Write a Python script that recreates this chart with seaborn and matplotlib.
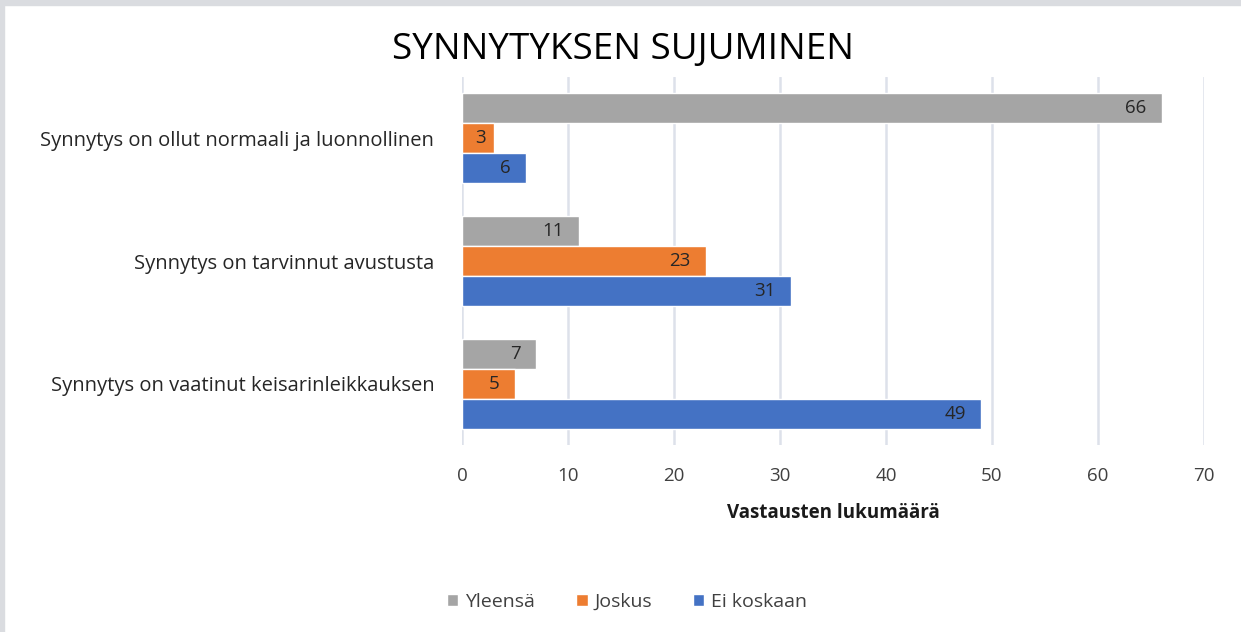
import pandas as pd
import seaborn as sns
import matplotlib.pyplot as plt
from matplotlib.patches import Rectangle

# --- data ---
categories = ['Synnytys on ollut normaali ja luonnollinen',
              'Synnytys on tarvinnut avustusta',
              'Synnytys on vaatinut keisarinleikkauksen']
series = ['Yleensä', 'Joskus', 'Ei koskaan']
yleensa = [66, 11, 7]
joskus = [3, 23, 5]
ei_koskaan = [6, 31, 49]
x_ticks = [0, 10, 20, 30, 40, 50, 60, 70]

colors = ['#A5A5A5', '#ED7D31', '#4472C4']

df = pd.DataFrame({
    'kategoria': categories * 3,
    'sarja': [s for s in series for _ in categories],
    'arvo': yleensa + joskus + ei_koskaan,
})

sns.set_theme(style='white')
plt.rcParams['font.family'] = ['Open Sans', 'DejaVu Sans']

fig = plt.figure(figsize=(12.41, 6.32), dpi=100)
ax = fig.add_axes([462 / 1241, 1 - 445 / 632, (1204 - 462) / 1241, (445 - 77) / 632])

sns.barplot(data=df, y='kategoria', x='arvo', hue='sarja', order=categories,
            hue_order=series, palette=colors, orient='h', width=0.735,
            saturation=1, ax=ax, legend=True, zorder=3)

ax.set_xlim(0, 70)
ax.set_xticks(x_ticks)

# value labels at the inside end of each bar (Excel style), kept inside short bars
px_per_unit = (1204 - 462) / 70
for cont in ax.containers:
    for bar, val in zip(cont.patches, cont.datavalues):
        yc = bar.get_y() + bar.get_height() / 2
        txt = f'{val:g}'
        text_w = 10 * len(txt)
        if val * px_per_unit - 16 - text_w < 14:
            ax.annotate(txt, (0, yc), xytext=(13 * 0.72, 0), textcoords='offset points',
                        ha='left', va='center', fontsize=13.5, color='#262626', zorder=4)
        else:
            ax.annotate(txt, (val, yc), xytext=(-15 * 0.72, 0), textcoords='offset points',
                        ha='right', va='center', fontsize=13.5, color='#262626', zorder=4)

ax.grid(axis='x', color='#DDE1EA', linewidth=1.8, zorder=0)
for s in ax.spines.values():
    s.set_visible(False)
ax.tick_params(axis='x', length=0, labelsize=13.5, labelcolor='#404040', pad=16)
ax.tick_params(axis='y', length=0, labelsize=14.5, labelcolor='#262626', pad=20)
ax.set_ylabel('')
ax.set_xlabel('Vastausten lukumäärä', fontsize=13.5, fontweight='bold',
              color='#1a1a1a', labelpad=13)

leg = ax.legend(loc='center', bbox_to_anchor=(627 / 1241, 1 - 602 / 632),
                bbox_transform=fig.transFigure, ncol=3, frameon=False,
                fontsize=14, handlelength=0.6, handleheight=0.6,
                handletextpad=0.35, columnspacing=2.1)
for t in leg.get_texts():
    t.set_color('#404040')

fig.text(623 / 1241, 1 - 50 / 632, 'SYNNYTYKSEN SUJUMINEN', ha='center', va='center',
         fontsize=26.5, color='black')

# screenshot frame on top and left
fig.patches.append(Rectangle((0, 1 - 5 / 632), 1, 5 / 632, transform=fig.transFigure,
                             color='#DADCE0', zorder=0))
fig.patches.append(Rectangle((0, 0), 4 / 1241, 1, transform=fig.transFigure,
                             color='#DADCE0', zorder=0))

plt.savefig('out.png', dpi=100)
